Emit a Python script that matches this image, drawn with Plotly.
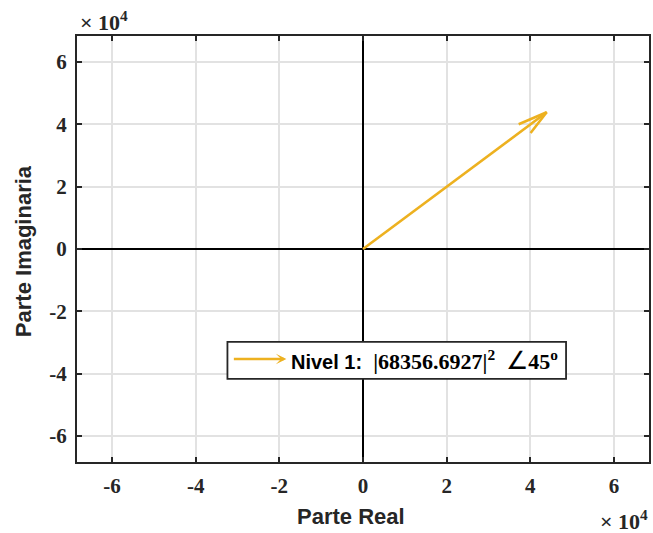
import plotly.graph_objects as go

# ---- data ----
vector_real = [43900.0]
vector_imag = [43900.0]
axis_limit = 68356.6927
legend_magnitude = "68356.6927"
legend_angle = 45
tick_values = [-60000, -40000, -20000, 0, 20000, 40000, 60000]
tick_labels = ["-6", "-4", "-2", "0", "2", "4", "6"]
series_name = "Nivel 1"

ARROW_COLOR = "#EDB120"
FRAME = "#262626"
SERIF = "Liberation Serif"
SANS = "Liberation Sans"

# arrow shaft + open arrowhead barbs (MATLAB quiver style, computed from the vector)
alpha, beta = 0.12, 0.27
xs, ys = [], []
for u, v in zip(vector_real, vector_imag):
    b1x = u - alpha * (u + beta * v)
    b1y = v - alpha * (v - beta * u)
    b2x = u - alpha * (u - beta * v)
    b2y = v - alpha * (v + beta * u)
    xs += [0, u, None, b1x, u, b2x, None]
    ys += [0, v, None, b1y, v, b2y, None]

fig = go.Figure()
fig.add_trace(go.Scatter(x=xs, y=ys, mode="lines",
                         line=dict(color=ARROW_COLOR, width=2.6),
                         showlegend=False, hoverinfo="skip"))

axis_common = dict(
    range=[-axis_limit, axis_limit],
    tickvals=tick_values, ticktext=tick_labels,
    tickfont=dict(family=SERIF, size=21, color="#262626", weight="bold"),
    showgrid=True, gridcolor="#e2e2e2", gridwidth=1.5,
    zeroline=True, zerolinecolor="#000000", zerolinewidth=2,
    showline=True, linecolor=FRAME, linewidth=2, mirror="ticks",
    ticks="inside", ticklen=5, tickwidth=2, tickcolor=FRAME,
    fixedrange=True,
)
fig.update_xaxes(**axis_common, ticklabelstandoff=4)
fig.update_yaxes(**axis_common, ticklabelstandoff=4)

annotations = [
    # axis titles
    dict(text="<b>Parte Real</b>", xref="paper", yref="paper", x=0.479, y=0,
         xanchor="center", yanchor="middle", yshift=-54, showarrow=False,
         font=dict(family=SANS, size=22, color="#262626")),
    dict(text="<b>Parte Imaginaria</b>", xref="paper", yref="paper", x=0, y=0.495,
         xanchor="center", yanchor="middle", xshift=-54, textangle=-90, showarrow=False,
         font=dict(family=SANS, size=22, color="#262626")),
    # exponent labels
    dict(text="<b>× 10<sup>4</sup></b>", xref="paper", yref="paper", x=0, y=1,
         xanchor="left", yanchor="bottom", xshift=1, yshift=-1, showarrow=False,
         font=dict(family=SERIF, size=22, color="#262626")),
    dict(text="<b>× 10<sup>4</sup></b>", xref="paper", yref="paper", x=1, y=0,
         xanchor="right", yanchor="top", xshift=1, yshift=-42, showarrow=False,
         font=dict(family=SERIF, size=22, color="#262626")),
    # legend text
    dict(text=f"<b>{series_name}:&nbsp;&nbsp;</b><span style='font-family:{SERIF};font-size:22px'><b>|{legend_magnitude}|<sup>2</sup></b>&nbsp;&nbsp;<span style='font-size:25px'>∠</span><b>{legend_angle}<sup>o</sup></b></span>",
         xref="paper", yref="paper", x=0.371, y=0.240, xanchor="left", yanchor="middle",
         showarrow=False, font=dict(family=SANS, size=20, color="#000000")),
    # legend sample arrow
    dict(text="", xref="paper", yref="paper", x=0.366, y=0.242, ax=-54, ay=0,
         showarrow=True, arrowhead=3, arrowsize=0.7, arrowwidth=2.5,
         arrowcolor=ARROW_COLOR),
]

shapes = [
    dict(type="rect", xref="paper", yref="paper", x0=0.263, x1=0.855, y0=0.195, y1=0.282,
         line=dict(color="#262626", width=1.8), fillcolor="white", layer="above"),
]

fig.update_layout(
    width=653, height=533,
    margin=dict(l=77, r=2, t=36, b=71),
    paper_bgcolor="white", plot_bgcolor="white",
    showlegend=False,
    annotations=annotations, shapes=shapes,
)

# remove the default page margin so the 653x533 figure fills the window exactly
fig.write_html(
    "out.html",
    config={"displayModeBar": False},
    post_script="document.body.style.margin='0';"
                "document.documentElement.style.overflow='hidden';"
                "document.body.style.overflow='hidden';",
)
